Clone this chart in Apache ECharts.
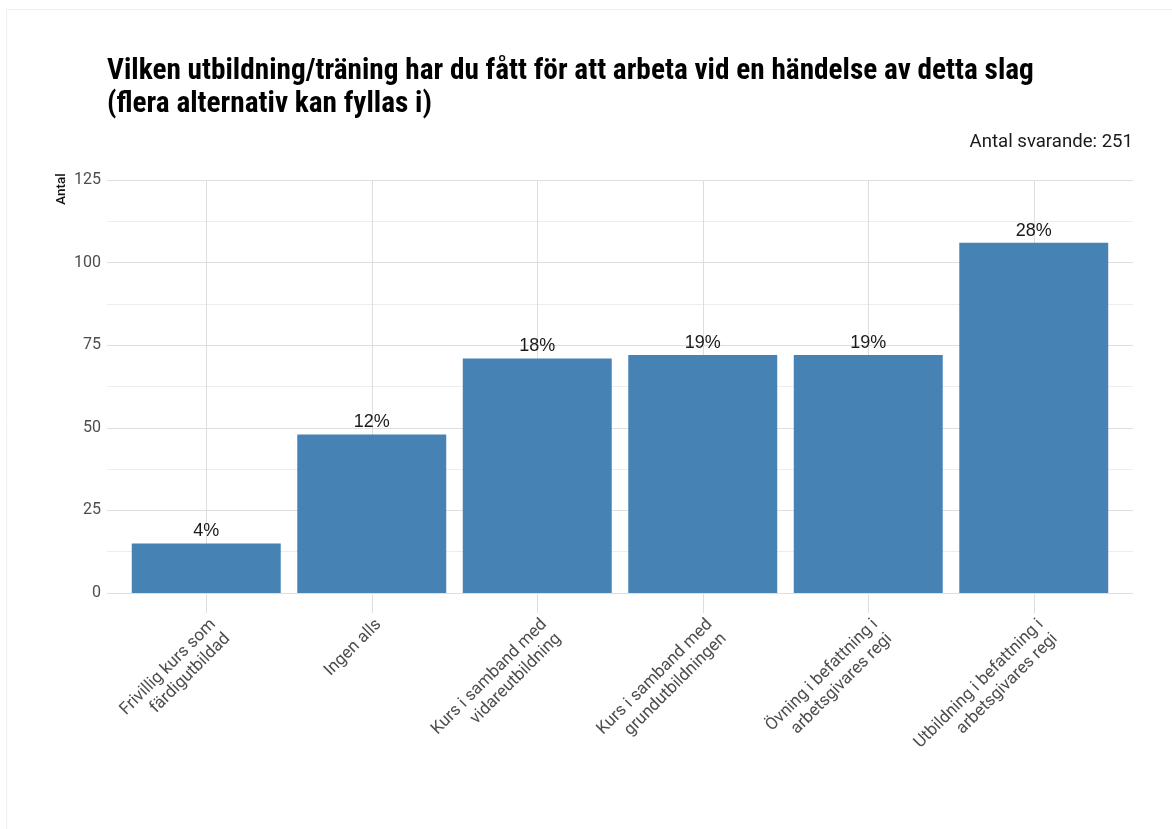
<!DOCTYPE html>
<html>
<head>
<meta charset="utf-8">
<script src="https://cdn.jsdelivr.net/npm/echarts@6/dist/echarts.min.js"></script>
<style>
  html, body { margin: 0; padding: 0; background: #fff; }
  #chart { width: 1172px; height: 829px; }
</style>
</head>
<body>
<div id="chart"></div>
<script>
// Survey answers: number of respondents per kind of training
const categories = [
  'Frivillig kurs som\nfärdigutbildad',
  'Ingen alls',
  'Kurs i samband med\nvidareutbildning',
  'Kurs i samband med\ngrundutbildningen',
  'Övning i befattning i\narbetsgivares regi',
  'Utbildning i befattning i\narbetsgivares regi'
];
const counts = [15, 48, 71, 72, 72, 106];
const percentLabels = ['4%', '12%', '18%', '19%', '19%', '28%'];
const yTicks = [0, 25, 50, 75, 100, 125];

const titleText = 'Vilken utbildning/träning har du fått för att arbeta vid en händelse av detta slag\n(flera alternativ kan fyllas i)';
const subtitleText = 'Antal svarande: 251';

const condensed = '"Roboto Condensed", "Liberation Sans Narrow", "Arial Narrow", Roboto, sans-serif';

const chart = echarts.init(document.getElementById('chart'), null, { renderer: 'canvas' });

const plotTop = 180, plotBottom = 236;
const plotHeight = 829 - plotTop - plotBottom;

chart.setOption({
  backgroundColor: '#ffffff',
  animation: false,
  title: [{
    text: titleText,
    left: 102,
    top: 50,
    textStyle: {
      fontFamily: condensed,
      fontWeight: 'bold',
      fontSize: 29.3,
      lineHeight: 33,
      color: '#000000'
    }
  }, {
    text: subtitleText,
    right: 34,
    top: 128,
    textStyle: {
      fontFamily: 'Roboto, sans-serif',
      fontWeight: 'normal',
      fontSize: 18.6,
      color: '#1a1a1a'
    }
  }],
  graphic: [{
    type: 'rect',
    shape: { x: 6.5, y: 9.5, width: 1200, height: 900 },
    style: { fill: 'none', stroke: '#f1f1f1', lineWidth: 1 },
    silent: true
  }, {
    type: 'text',
    x: 61.5,
    y: 189,
    rotation: Math.PI / 2,
    style: {
      text: 'Antal',
      fontFamily: 'Roboto, sans-serif',
      fontSize: 13.5,
      fontWeight: 500,
      fill: '#111111',
      align: 'center',
      verticalAlign: 'middle'
    }
  }],
  grid: [
    // full panel: horizontal grid lines and y labels
    { left: 107, right: 39, top: plotTop, bottom: plotBottom },
    // discrete range with padding on both sides for the bars
    { left: 123.5, right: 55.5, top: plotTop, bottom: plotBottom }
  ],
  xAxis: [{
    gridIndex: 0,
    type: 'value',
    min: 0, max: 1,
    show: false
  }, {
    gridIndex: 1,
    type: 'category',
    data: categories,
    axisLine: { show: false },
    axisTick: { show: true, alignWithLabel: true, length: 20, lineStyle: { color: '#dedede' } },
    axisLabel: {
      rotate: 45,
      margin: 22,
      interval: 0,
      fontFamily: 'Roboto, sans-serif',
      fontSize: 17,
      lineHeight: 20,
      color: '#4d4d4d',
      align: 'right',
      verticalAlign: 'top'
    },
    splitLine: { show: false }
  }, {
    gridIndex: 1,
    type: 'category',
    data: categories,
    position: 'bottom',
    axisLine: { show: false },
    axisLabel: { show: false },
    axisTick: { show: true, inside: true, alignWithLabel: true, length: plotHeight, lineStyle: { color: '#dedede' } },
    splitLine: { show: false }
  }],
  yAxis: [{
    gridIndex: 0,
    type: 'value',
    min: yTicks[0],
    max: yTicks[yTicks.length - 1],
    interval: 25,
    axisLine: { show: false },
    axisTick: { show: false },
    axisLabel: {
      margin: 6,
      fontFamily: 'Roboto, sans-serif',
      fontSize: 16,
      color: '#4d4d4d'
    },
    splitLine: { show: true, lineStyle: { color: '#dedede', width: 1 } },
    minorTick: { show: false, splitNumber: 2 },
    minorSplitLine: { show: true, lineStyle: { color: '#ededed', width: 1 } }
  }, {
    gridIndex: 1,
    type: 'value',
    min: yTicks[0],
    max: yTicks[yTicks.length - 1],
    interval: 25,
    show: false,
    splitLine: { show: false }
  }],
  series: [{
    type: 'bar',
    xAxisIndex: 1,
    yAxisIndex: 1,
    data: counts,
    barWidth: '90%',
    itemStyle: { color: '#4682B4' },
    z: 3,
    label: {
      show: true,
      position: 'top',
      distance: 3,
      formatter: (p) => percentLabels[p.dataIndex],
      fontFamily: '"Liberation Sans", Arial, sans-serif',
      fontSize: 18,
      color: '#1a1a1a'
    }
  }]
});
</script>
</body>
</html>
